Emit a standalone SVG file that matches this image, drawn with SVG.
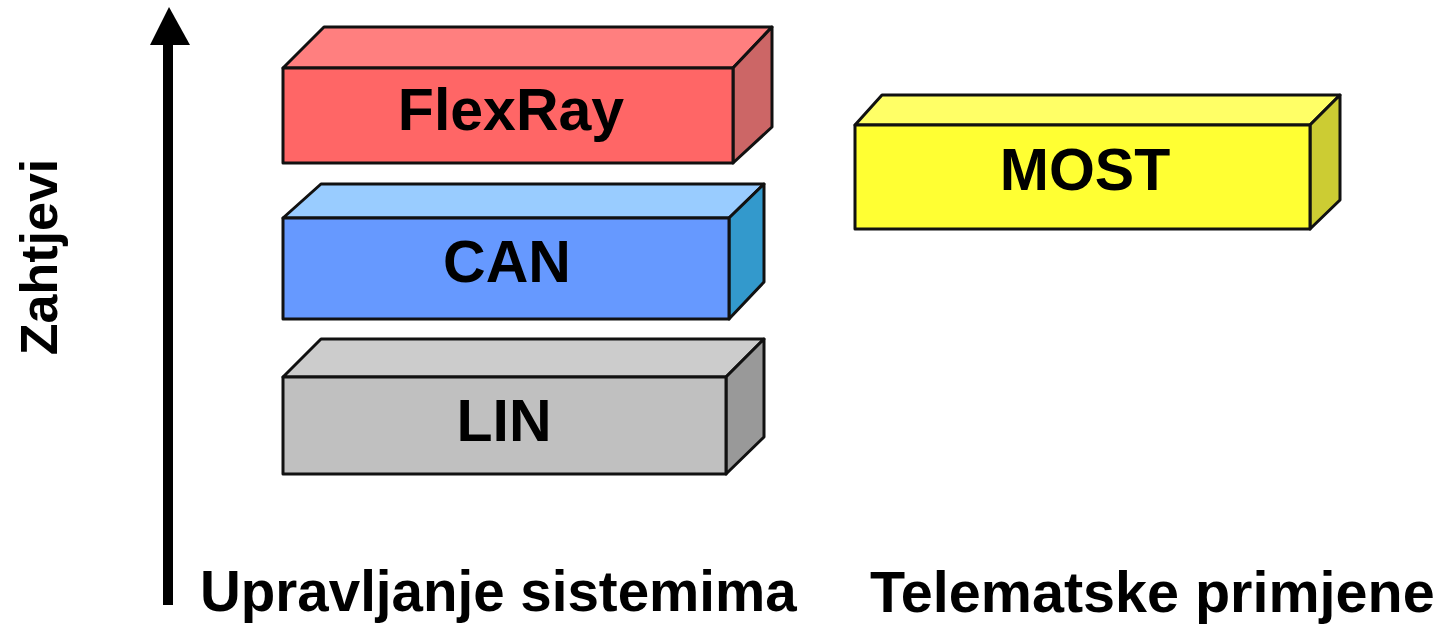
<svg xmlns="http://www.w3.org/2000/svg" width="1438" height="625" viewBox="0 0 1438 625">
<style>
.edge{stroke:#111;stroke-width:3;stroke-linejoin:round}
.lbl{font-family:"Liberation Sans",Arial,sans-serif;font-weight:bold;font-size:59px;fill:#000;text-anchor:middle}
.axis{font-family:"Liberation Sans",Arial,sans-serif;font-weight:bold;fill:#000}
</style>
<rect width="1438" height="625" fill="#fff"/>
<g id="connectors">
<line x1="168" y1="605" x2="168" y2="42" stroke="#000" stroke-width="10"/>
<polygon points="169,7 150,45 190,45" fill="#000"/>
</g>
<g id="flexray">
<polygon class="edge" points="283,68 324,27 772,27 733,68" fill="#FF7F7F"/>
<polygon class="edge" points="733,68 772,27 772,127 733,163" fill="#CC6666"/>
<rect class="edge" x="283" y="68" width="450" height="95" fill="#FF6666"/>
<text class="lbl" x="511" y="130">FlexRay</text>
</g>
<g id="can">
<polygon class="edge" points="283,218 321,184 764,184 729,218" fill="#99CCFF"/>
<polygon class="edge" points="729,218 764,184 764,282 729,319" fill="#3399CC"/>
<rect class="edge" x="283" y="218" width="446" height="101" fill="#6699FF"/>
<text class="lbl" x="507" y="282">CAN</text>
</g>
<g id="lin">
<polygon class="edge" points="283,377 321,339 764,339 726,377" fill="#CCCCCC"/>
<polygon class="edge" points="726,377 764,339 764,437 726,474" fill="#999999"/>
<rect class="edge" x="283" y="377" width="443" height="97" fill="#C0C0C0"/>
<text class="lbl" x="504" y="441">LIN</text>
</g>
<g id="most">
<polygon class="edge" points="855,125 882,95 1340,95 1310,125" fill="#FFFF66"/>
<polygon class="edge" points="1310,125 1340,95 1340,200 1310,229" fill="#CCCC33"/>
<rect class="edge" x="855" y="125" width="455" height="104" fill="#FFFF33"/>
<text class="lbl" x="1085" y="190">MOST</text>
</g>
<g id="labels">
<text class="axis" x="200" y="611" font-size="56.5">Upravljanje sistemima</text>
<text class="axis" x="870" y="612" font-size="57.5">Telematske primjene</text>
<text class="axis" font-size="52" text-anchor="middle" transform="translate(57,257) rotate(-90)">Zahtjevi</text>
</g>
</svg>
